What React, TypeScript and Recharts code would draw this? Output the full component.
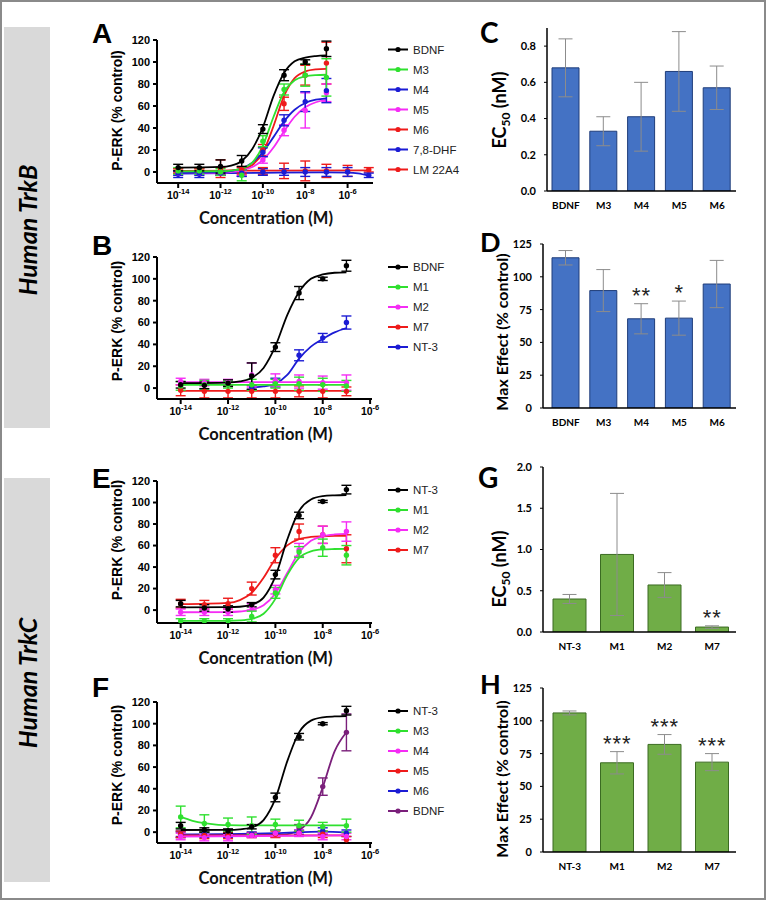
import React from 'react'
import { ComposedChart, Line, Scatter, Bar, ErrorBar, XAxis, YAxis } from 'recharts'

const ARIAL = '"Liberation Sans", Arial, sans-serif'
const CALIBRI = 'Lato, "Open Sans", sans-serif'

const BLACK = '#000000'
const GREEN = '#2fe02f'
const BLUE = '#1c1cd4'
const MAGENTA = '#f52cf5'
const RED = '#ee1b1b'
const PURPLE = '#7a1f7a'

// x values are log10 of the molar concentration
const CONC_TICKS = [-14, -12, -10, -8, -6]
const PERK_TICKS = [0, 20, 40, 60, 80, 100, 120]

// ---- Panel A (TrkB): fitted curves [logC, y] and points [logC, mean, sem]
const A_FIT_BDNF = [[-14, 4], [-12, 4.6], [-11.5, 5.8], [-11, 10], [-10.5, 21], [-10, 40.7], [-9.5, 69], [-9, 90], [-8.5, 100.6], [-8, 104], [-7.5, 105.4], [-7, 106]]
const A_FIT_M3 = [[-14, 0.5], [-12, 0.7], [-11.5, 1.2], [-11, 3], [-10.5, 8.5], [-10, 24], [-9.5, 50], [-9, 72.7], [-8.5, 83.4], [-8, 87], [-7.5, 88.1], [-7, 88.4]]
const A_FIT_M4 = [[-14, -1], [-12, -0.2], [-11.5, 0.9], [-11, 3.4], [-10.5, 8.5], [-10, 18], [-9.5, 31.7], [-9, 46], [-8.5, 56.6], [-8, 62.7], [-7.5, 65.7], [-7, 67]]
const A_FIT_M5 = [[-14, -1], [-12, -0.6], [-11.5, 0], [-11, 1.4], [-10.5, 4.5], [-10, 11], [-9.5, 22.2], [-9, 37], [-8.5, 50.2], [-8, 58.9], [-7.5, 63.4], [-7, 65.5]]
const A_FIT_M6 = [[-14, 1], [-12, 1.1], [-11.5, 1.5], [-11, 2.6], [-10.5, 6.4], [-10, 17.7], [-9.5, 41.6], [-9, 69.2], [-8.5, 85.4], [-8, 91.4], [-7.5, 93.3], [-7, 93.8]]
const A_FIT_DHF = [[-14, -1.5], [-10, -0.8], [-7, -0.3], [-6, -0.5], [-5.5, -1.3], [-5, -3.5]]
const A_FIT_LM = [[-14, 1], [-5, 1.5]]

const A_PTS_BDNF = [[-14, 4, 3], [-13, 4, 3], [-12, 5, 6], [-11, 10, 5], [-10, 39, 4], [-9, 88, 5], [-8, 100, 2], [-7, 112, 7]]
const A_PTS_M3 = [[-14, 1, 3], [-13, 1, 3], [-12, 0, 3], [-11, -3, 5], [-10, 28, 5], [-9, 75, 5], [-8, 88, 10], [-7, 86, 17]]
const A_PTS_M4 = [[-14, -1, 2], [-13, -1, 2], [-12, -1, 2], [-11, -1, 3], [-10, 18, 4], [-9, 47, 5], [-8, 64, 9], [-7, 74, 11]]
const A_PTS_M5 = [[-14, -1, 2], [-13, -1, 2], [-12, -1, 2], [-11, -1, 2], [-10, 11, 3], [-9, 38, 5], [-8, 56, 16], [-7, 72, 8]]
const A_PTS_M6 = [[-14, 1, 2], [-13, 1, 2], [-12, 3, 8], [-11, 2, 3], [-10, 20, 5], [-9, 62, 6], [-8, 88, 9], [-7, 99, 19]]
const A_PTS_DHF = [[-14, -2, 3], [-13, -2, 3], [-12, -1, 2], [-11, -1, 3], [-10, 0, 3], [-9, 0, 3], [-8, 0, 4], [-7, 0, 4], [-6, 0, 4], [-5, -3, 2]]
const A_PTS_LM = [[-14, 1, 2], [-13, 1, 2], [-12, 1, 3], [-11, 1, 3], [-10, 1, 3], [-9, 1, 7], [-8, 1, 9], [-7, 1, 6], [-6, 1, 5], [-5, 2, 2]]

// ---- Panel B (TrkB)
const B_FIT_BDNF = [[-14, 4.5], [-12, 5], [-11.5, 6.1], [-11, 9.3], [-10.5, 18.4], [-10, 38.3], [-9.5, 66.8], [-9, 88], [-8.5, 100], [-8, 104], [-7.5, 105.6], [-7, 106]]
const B_FIT_M1 = [[-14, 3], [-7, 3]]
const B_FIT_M2 = [[-14, 5.5], [-7, 5.5]]
const B_FIT_M7 = [[-14, -2.5], [-7, -2.5]]
const B_FIT_NT3 = [[-11, 0.5], [-10.5, 1.5], [-10, 4], [-9.5, 12], [-9, 27], [-8.5, 38], [-8, 45], [-7.5, 51], [-7, 55]]

const B_PTS_BDNF = [[-14, 3, 3], [-13, 2.5, 3], [-12, 4.5, 3], [-11, 11, 12], [-10, 37.5, 4], [-9, 87, 6], [-8, 100, 1.5], [-7, 112, 5]]
const B_PTS_M1 = [[-14, 2, 4], [-13, 3, 4], [-12, 3, 3], [-11, 3, 5], [-10, 4, 4], [-9, 4, 6], [-8, 3, 6], [-7, 2, 5]]
const B_PTS_M2 = [[-14, 6, 3], [-13, 5, 3], [-12, 5, 3], [-11, 12, 11], [-10, 7, 6], [-9, 6, 6], [-8, 5, 6], [-7, 5, 7]]
const B_PTS_M7 = [[-14, -2, 5], [-13, -3, 6], [-12, -3, 6], [-11, -3, 6], [-10, -3, 6], [-9, -3, 5], [-8, -3, 6], [-7, -3, 4]]
const B_PTS_NT3 = [[-11, 0.5, 2], [-10, 5, 4], [-9, 30, 5], [-8, 46, 4], [-7, 60, 6]]

// ---- Panel E (TrkC)
const E_FIT_NT3 = [[-14, 2.5], [-12, 2.7], [-11.5, 3.1], [-11, 5], [-10.5, 11.6], [-10, 31.3], [-9.5, 65.5], [-9, 92.1], [-8.5, 102.8], [-8, 105.9], [-7.5, 106.7], [-7, 107]]
const E_FIT_M1 = [[-14, -10], [-12, -10], [-11.5, -9.6], [-11, -8.2], [-10.5, -3.4], [-10, 10.4], [-9.5, 32.5], [-9, 48.5], [-8.5, 54.6], [-8, 56.4], [-7.5, 56.8], [-7, 57]]
const E_FIT_M2 = [[-14, -2], [-12, -1.8], [-11.5, -1.3], [-11, 0.2], [-10.5, 4.6], [-10, 15.5], [-9.5, 34.5], [-9, 53.5], [-8.5, 64.4], [-8, 68.7], [-7.5, 70.3], [-7, 70.8]]
const E_FIT_M7 = [[-14, 5.5], [-12, 6.7], [-11.5, 9.3], [-11, 16.1], [-10.5, 30.1], [-10, 47.8], [-9.5, 60.2], [-9, 66], [-8.5, 68], [-8, 68.6], [-7.5, 68.9], [-7, 69]]

const E_PTS_NT3 = [[-14, 6, 3], [-13, 2, 3], [-12, 1, 3], [-11, 5, 2], [-10, 33, 4], [-9, 88, 3], [-8, 101, 1], [-7, 112, 4]]
const E_PTS_M1 = [[-14, -10, 2], [-13, -10, 2], [-12, -10, 2], [-11, -6, 5], [-10, 16, 5], [-9, 54, 5], [-8, 58, 8], [-7, 51, 9]]
const E_PTS_M2 = [[-14, -2, 3], [-13, -2, 3], [-12, -2, 3], [-11, 3, 3], [-10, 19, 4], [-9, 56, 6], [-8, 70, 8], [-7, 73, 9]]
const E_PTS_M7 = [[-14, 6, 4], [-13, 5, 4], [-12, 6, 5], [-11, 20, 6], [-10, 51, 7], [-9, 73, 7], [-8, 70, 8], [-7, 57, 13]]

// ---- Panel F (TrkC)
const F_FIT_NT3 = [[-14, 2], [-12, 2.1], [-11.5, 2.6], [-11, 4.5], [-10.5, 11.1], [-10, 30.9], [-9.5, 65.3], [-9, 92], [-8.5, 102.8], [-8, 105.9], [-7.5, 106.7], [-7, 107]]
const F_FIT_M3 = [[-14, 14], [-13.5, 10.5], [-13, 8.3], [-12.5, 7], [-12, 6.5], [-11, 6.2], [-7, 6.2]]
const F_FIT_M4 = [[-14, -4], [-7, -3]]
const F_FIT_M5 = [[-14, -3], [-7, -3]]
const F_FIT_M6 = [[-14, -2], [-10, -1], [-8, 0.5], [-7, -0.5]]
const F_FIT_BDNF = [[-14, -3], [-10, -2.6], [-9.5, -1.8], [-9, 1.7], [-8.5, 13.5], [-8, 41.4], [-7.5, 74.5], [-7, 92.1]]

const F_PTS_NT3 = [[-14, 6, 3], [-13, 2, 2], [-12, 1, 2], [-11, 5, 2], [-10, 32, 4], [-9, 88, 3], [-8, 100, 1], [-7, 112, 4]]
const F_PTS_M3 = [[-14, 14, 10], [-13, 8, 8], [-12, 7, 6], [-11, 6, 8], [-10, 7, 5], [-9, 6, 5], [-8, 5, 4], [-7, 6, 6]]
const F_PTS_M4 = [[-14, -4, 3], [-13, -5, 3], [-12, -5, 3], [-11, -3, 2], [-10, -1, 3], [-9, -1, 3], [-8, -4, 3], [-7, -4, 3]]
const F_PTS_M5 = [[-14, -2, 3], [-13, -3, 3], [-12, -3, 3], [-11, -3, 2], [-10, -2, 3], [-9, -1, 2], [-8, -2, 3], [-7, -7, 3]]
const F_PTS_M6 = [[-14, -2, 3], [-13, -2, 3], [-12, -2, 3], [-11, -2, 2], [-10, -1, 3], [-9, 0, 2], [-8, 1, 3], [-7, -1, 3]]
const F_PTS_BDNF = [[-14, -2, 2], [-13, -2, 2], [-12, -2, 2], [-11, -2, 2], [-10, -1, 3], [-9, 4, 3], [-8, 42, 8], [-7, 92, 17]]

// ---- Bar panels
const C_CATS = ['BDNF', 'M3', 'M4', 'M5', 'M6']
const C_EC50 = [0.68, 0.33, 0.41, 0.66, 0.57]
const C_ERR = [0.16, 0.08, 0.19, 0.22, 0.12]
const C_SIG = ['', '', '', '', '']
const C_TICKS = [0, 0.2, 0.4, 0.6, 0.8]

const D_CATS = ['BDNF', 'M3', 'M4', 'M5', 'M6']
const D_MAX = [114.5, 89.5, 68, 68.5, 94.5]
const D_ERR = [5.5, 16, 11.5, 13, 18]
const D_SIG = ['', '', '**', '*', '']
const MAX_TICKS = [0, 25, 50, 75, 100, 125]

const G_CATS = ['NT-3', 'M1', 'M2', 'M7']
const G_EC50 = [0.4, 0.94, 0.57, 0.06]
const G_ERR = [0.055, 0.74, 0.15, 0.015]
const G_SIG = ['', '', '', '**']
const G_TICKS = [0, 0.5, 1, 1.5, 2]

const H_CATS = ['NT-3', 'M1', 'M2', 'M7']
const H_MAX = [106, 68, 82, 68.5]
const H_ERR = [1.5, 8.5, 7.5, 6.5]
const H_SIG = ['', '***', '***', '***']

const A_SERIES = [
  { name: 'BDNF', color: BLACK, fit: A_FIT_BDNF, pts: A_PTS_BDNF },
  { name: 'M3', color: GREEN, fit: A_FIT_M3, pts: A_PTS_M3 },
  { name: 'M4', color: BLUE, fit: A_FIT_M4, pts: A_PTS_M4 },
  { name: 'M5', color: MAGENTA, fit: A_FIT_M5, pts: A_PTS_M5 },
  { name: 'M6', color: RED, fit: A_FIT_M6, pts: A_PTS_M6 },
  { name: '7,8-DHF', color: BLUE, fit: A_FIT_DHF, pts: A_PTS_DHF },
  { name: 'LM 22A4', color: RED, fit: A_FIT_LM, pts: A_PTS_LM },
]
const B_SERIES = [
  { name: 'BDNF', color: BLACK, fit: B_FIT_BDNF, pts: B_PTS_BDNF },
  { name: 'M1', color: GREEN, fit: B_FIT_M1, pts: B_PTS_M1 },
  { name: 'M2', color: MAGENTA, fit: B_FIT_M2, pts: B_PTS_M2 },
  { name: 'M7', color: RED, fit: B_FIT_M7, pts: B_PTS_M7 },
  { name: 'NT-3', color: BLUE, fit: B_FIT_NT3, pts: B_PTS_NT3 },
]
const E_SERIES = [
  { name: 'NT-3', color: BLACK, fit: E_FIT_NT3, pts: E_PTS_NT3 },
  { name: 'M1', color: GREEN, fit: E_FIT_M1, pts: E_PTS_M1 },
  { name: 'M2', color: MAGENTA, fit: E_FIT_M2, pts: E_PTS_M2 },
  { name: 'M7', color: RED, fit: E_FIT_M7, pts: E_PTS_M7 },
]
const F_SERIES = [
  { name: 'NT-3', color: BLACK, fit: F_FIT_NT3, pts: F_PTS_NT3 },
  { name: 'M3', color: GREEN, fit: F_FIT_M3, pts: F_PTS_M3 },
  { name: 'M4', color: MAGENTA, fit: F_FIT_M4, pts: F_PTS_M4 },
  { name: 'M5', color: RED, fit: F_FIT_M5, pts: F_PTS_M5 },
  { name: 'M6', color: BLUE, fit: F_FIT_M6, pts: F_PTS_M6 },
  { name: 'BDNF', color: PURPLE, fit: F_FIT_BDNF, pts: F_PTS_BDNF },
]

const toFit = (a: number[][]) => a.map(([x, y]) => ({ x, y }))
const toPts = (a: number[][]) => a.map(([x, y, e]) => ({ x, y, e }))

function ConcTick({ x, y, payload }: any) {
  return (
    <text x={x} y={y + 11} textAnchor="middle" fontFamily={ARIAL} fontWeight="bold" fontSize={10.5} fill="#000">
      <tspan>10</tspan>
      <tspan dy={-5} fontSize={7.5}>{payload.value}</tspan>
    </text>
  )
}

function CatTick({ x, y, payload }: any) {
  return (
    <text x={x} y={y + 18} textAnchor="middle" fontFamily={CALIBRI} fontWeight="bold" fontSize={10} fill="#000">
      {payload.value}
    </text>
  )
}

// plot area in page pixels
function DosePanel({ series, plot, xDomain, yDomain }: any) {
  const left = 60
  const width = 330
  const top = plot.top - 30
  const height = plot.bottom - top + 50
  return (
    <div style={{ position: 'absolute', left, top, width, height }}>
      <ComposedChart
        width={width}
        height={height}
        margin={{ top: 30, right: left + width - plot.right, bottom: 0, left: 0 }}
      >
        <XAxis
          type="number"
          dataKey="x"
          domain={xDomain}
          ticks={CONC_TICKS}
          allowDataOverflow
          height={50}
          tick={<ConcTick />}
          tickSize={5}
          tickMargin={0}
          axisLine={{ stroke: '#000', strokeWidth: 2 }}
          tickLine={{ stroke: '#000', strokeWidth: 2 }}
        />
        <YAxis
          type="number"
          domain={yDomain}
          ticks={PERK_TICKS}
          allowDataOverflow
          width={plot.left - left}
          tick={{ fontFamily: ARIAL, fontWeight: 'bold', fontSize: 11, fill: '#000' }}
          tickSize={4}
          tickMargin={3}
          axisLine={{ stroke: '#000', strokeWidth: 2 }}
          tickLine={{ stroke: '#000', strokeWidth: 2 }}
        />
        {[...series].reverse().map((s: any) => [
          <Line
            key={s.name + '-fit'}
            data={toFit(s.fit)}
            dataKey="y"
            type="monotone"
            stroke={s.color}
            strokeWidth={1.8}
            dot={false}
            activeDot={false}
            isAnimationActive={false}
          />,
          <Scatter
            key={s.name + '-pts'}
            data={toPts(s.pts)}
            dataKey="y"
            fill={s.color}
            isAnimationActive={false}
            shape={(p: any) => <circle cx={p.cx} cy={p.cy} r={2.7} fill={s.color} />}
          >
            <ErrorBar dataKey="e" direction="y" width={5} stroke={s.color} strokeWidth={1.4} />
          </Scatter>,
        ])}
      </ComposedChart>
    </div>
  )
}

function BarPanel({ cats, vals, errs, sigs, plot, yDomain, yTicks, fmt, fill, stroke, barSize, padLeft }: any) {
  const data = cats.map((name: string, i: number) => ({
    name,
    v: vals[i],
    e: errs[i],
    top: vals[i] + errs[i],
    sig: sigs[i],
  }))
  const left = 440
  const width = 310
  const top = plot.top - 20
  const height = plot.bottom - top + 30
  return (
    <div style={{ position: 'absolute', left, top, width, height }}>
      <ComposedChart
        width={width}
        height={height}
        data={data}
        margin={{ top: 20, right: left + width - plot.right, bottom: 0, left: 0 }}
      >
        <XAxis
          dataKey="name"
          type="category"
          padding={{ left: padLeft, right: 0 }}
          height={30}
          tick={<CatTick />}
          tickLine={false}
          tickSize={0}
          tickMargin={0}
          axisLine={{ stroke: '#000', strokeWidth: 1.5 }}
        />
        <YAxis
          type="number"
          domain={yDomain}
          ticks={yTicks}
          allowDataOverflow
          tickFormatter={fmt}
          width={plot.left - left}
          tick={{ fontFamily: CALIBRI, fontWeight: 'bold', fontSize: 11, fill: '#000' }}
          tickSize={3}
          tickMargin={8}
          axisLine={{ stroke: '#000', strokeWidth: 1.5 }}
          tickLine={{ stroke: '#000', strokeWidth: 1 }}
        />
        <Bar dataKey="v" fill={fill} stroke={stroke} strokeWidth={1} barSize={barSize} isAnimationActive={false}>
          <ErrorBar dataKey="e" direction="y" width={7} stroke="#8c8c8c" strokeWidth={1} />
        </Bar>
        <Scatter
          dataKey="top"
          isAnimationActive={false}
          shape={(p: any) => (
            <text x={p.cx} y={p.cy - 1} textAnchor="middle" fontFamily={ARIAL} fontSize={22} letterSpacing={1} fill="#222">
              {p.payload.sig}
            </text>
          )}
        />
      </ComposedChart>
    </div>
  )
}

function Legend({ series, y }: any) {
  return (
    <g>
      {series.map((s: any, i: number) => (
        <g key={s.name}>
          <line x1={388} x2={408} y1={y + i * 20} y2={y + i * 20} stroke={s.color} strokeWidth={2} />
          <circle cx={398} cy={y + i * 20} r={2.6} fill={s.color} />
          <text x={413} y={y + i * 20 + 4} fontFamily={ARIAL} fontSize={11.5} fill="#222">
            {s.name}
          </text>
        </g>
      ))}
    </g>
  )
}

const PLOT_A = { left: 157, right: 373, top: 40, bottom: 183 }
const PLOT_B = { left: 157, right: 372, top: 257, bottom: 399 }
const PLOT_E = { left: 157, right: 372, top: 481, bottom: 623 }
const PLOT_F = { left: 157, right: 372, top: 702, bottom: 843 }
const PLOT_C = { left: 547, right: 736, top: 28, bottom: 191 }
const PLOT_D = { left: 543, right: 736, top: 244, bottom: 408 }
const PLOT_G = { left: 543, right: 736, top: 467, bottom: 632 }
const PLOT_H = { left: 543, right: 736, top: 688, bottom: 852 }

function VTitle({ x, y, size, children }: any) {
  return (
    <text transform={`translate(${x},${y}) rotate(-90)`} textAnchor="middle" fontFamily={CALIBRI} fontWeight="bold" fontSize={size} fill="#000">
      {children}
    </text>
  )
}

function Overlay() {
  const letter = (t: string, x: number, y: number, font: string, size: number) => (
    <text x={x} y={y} fontFamily={font} fontWeight="bold" fontSize={size} fill="#000">{t}</text>
  )
  const perk = (y: number) => (
    <text transform={`translate(122,${y}) rotate(-90)`} textAnchor="middle" fontFamily={ARIAL} fontWeight="bold" fontSize={14} fill="#000">
      P-ERK (% control)
    </text>
  )
  const conc = (p: any) => (
    <text x={(p.left + p.right) / 2 + 1} y={p.bottom + 41} textAnchor="middle" fontFamily={CALIBRI} fontWeight="bold" fontSize={16.5} fill="#111">
      Concentration (M)
    </text>
  )
  const ec50 = (y: number) => (
    <VTitle x={506} y={y} size={18}>
      EC<tspan dy={4} fontSize={12}>50</tspan><tspan dy={-4}> (nM)</tspan>
    </VTitle>
  )
  return (
    <svg width={766} height={900} style={{ position: 'absolute', left: 0, top: 0 }}>
      <rect x={4} y={27} width={46} height={401} fill="#d9d9d9" />
      <rect x={4} y={478} width={46} height={404} fill="#d9d9d9" />
      <text transform="translate(37,230) rotate(-90)" textAnchor="middle" fontFamily={CALIBRI} fontStyle="italic" fontWeight="bold" fontSize={25} fill="#000">Human TrkB</text>
      <text transform="translate(37,683) rotate(-90)" textAnchor="middle" fontFamily={CALIBRI} fontStyle="italic" fontWeight="bold" fontSize={25} fill="#000">Human TrkC</text>

      {letter('A', 92, 43, ARIAL, 28)}
      {letter('B', 92, 255, ARIAL, 28)}
      {letter('E', 92, 488, ARIAL, 28)}
      {letter('F', 92, 697, ARIAL, 28)}
      {letter('C', 480, 43, CALIBRI, 28)}
      {letter('D', 480, 252, CALIBRI, 27)}
      {letter('G', 478, 488, CALIBRI, 28)}
      {letter('H', 480, 694, CALIBRI, 27)}

      {perk(110.5)}
      {perk(321)}
      {perk(540)}
      {perk(765)}
      {conc(PLOT_A)}
      {conc(PLOT_B)}
      {conc(PLOT_E)}
      {conc(PLOT_F)}

      {ec50(110)}
      <VTitle x={508} y={332} size={16}>Max Effect (% control)</VTitle>
      {ec50(569)}
      <VTitle x={508} y={779} size={16}>Max Effect (% control)</VTitle>

      <Legend series={A_SERIES} y={49.5} />
      <Legend series={B_SERIES} y={267} />
      <Legend series={E_SERIES} y={490} />
      <Legend series={F_SERIES} y={711} />
    </svg>
  )
}

export default function App() {
  const fmt1 = (v: number) => v.toFixed(1)
  const fmt0 = (v: number) => String(v)
  return (
    <div style={{ position: 'absolute', left: 0, top: 0, width: 766, height: 900, background: '#fff', overflow: 'hidden' }}>
      <Overlay />
      <DosePanel series={A_SERIES} plot={PLOT_A} xDomain={[-15, -4.8]} yDomain={[-10, 120]} />
      <DosePanel series={B_SERIES} plot={PLOT_B} xDomain={[-15, -5.92]} yDomain={[-10, 120]} />
      <DosePanel series={E_SERIES} plot={PLOT_E} xDomain={[-15, -5.92]} yDomain={[-12, 120]} />
      <DosePanel series={F_SERIES} plot={PLOT_F} xDomain={[-15, -5.92]} yDomain={[-10, 120]} />

      <BarPanel cats={C_CATS} vals={C_EC50} errs={C_ERR} sigs={C_SIG} plot={PLOT_C} yDomain={[0, 0.9]} yTicks={C_TICKS} fmt={fmt1}
        fill="#4472c4" stroke="#1f3d7a" barSize={27} padLeft={0} />
      <BarPanel cats={D_CATS} vals={D_MAX} errs={D_ERR} sigs={D_SIG} plot={PLOT_D} yDomain={[0, 125]} yTicks={MAX_TICKS} fmt={fmt0}
        fill="#4472c4" stroke="#1f3d7a" barSize={27} padLeft={4} />
      <BarPanel cats={G_CATS} vals={G_EC50} errs={G_ERR} sigs={G_SIG} plot={PLOT_G} yDomain={[0, 2]} yTicks={G_TICKS} fmt={fmt1}
        fill="#70ad47" stroke="#3b6b22" barSize={33} padLeft={3} />
      <BarPanel cats={H_CATS} vals={H_MAX} errs={H_ERR} sigs={H_SIG} plot={PLOT_H} yDomain={[0, 125]} yTicks={MAX_TICKS} fmt={fmt0}
        fill="#70ad47" stroke="#3b6b22" barSize={33} padLeft={3} />

      <div style={{ position: 'absolute', left: 0, top: 0, width: 766, height: 900, boxSizing: 'border-box', border: '2px solid #8a8a8a', pointerEvents: 'none' }} />
    </div>
  )
}
